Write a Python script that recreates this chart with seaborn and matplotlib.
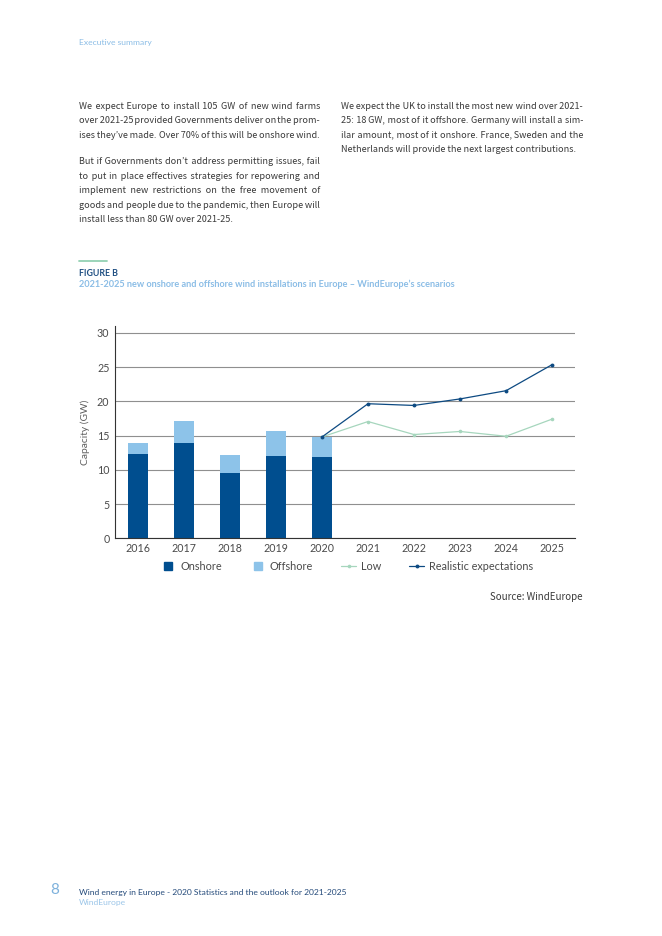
import matplotlib
matplotlib.use("Agg")
import matplotlib.pyplot as plt
from matplotlib.lines import Line2D
import seaborn as sns

# data (GW)
years_hist = [2016, 2017, 2018, 2019, 2020]
onshore = [12.3, 13.95, 9.5, 12.05, 11.9]
offshore = [1.6, 3.2, 2.7, 3.65, 2.9]
line_years = [2020, 2021, 2022, 2023, 2024, 2025]
low = [14.8, 17.05, 15.15, 15.6, 14.9, 17.4]
realistic = [14.8, 19.65, 19.4, 20.35, 21.55, 25.35]
all_years = list(range(2016, 2026))
y_ticks = [0, 5, 10, 15, 20, 25, 30]

left_paras = [
    ["We expect Europe to install 105 GW of new wind farms",
     "over 2021-25 provided Governments deliver on the prom-",
     "ises they\u2019ve made. Over 70% of this will be onshore wind."],
    ["But if Governments don\u2019t address permitting issues, fail",
     "to put in place effectives strategies for repowering and",
     "implement new restrictions on the free movement of",
     "goods and people due to the pandemic, then Europe will",
     "install less than 80 GW over 2021-25."],
]
right_para = ["We expect the UK to install the most new wind over 2021-",
              "25: 18 GW, most of it offshore. Germany will install a sim-",
              "ilar amount, most of it onshore. France, Sweden and the",
              "Netherlands will provide the next largest contributions."]

ONSHORE = "#004e8f"
OFFSHORE = "#8dc3e9"
REAL = "#0d4a82"
LOW = "#a6d6bd"
BODY = "#3a3a3a"
LIGHT = "#8bbde6"

sns.set_style("white")
plt.rcParams["font.family"] = ["Lato", "DejaVu Sans"]
# latin part of Noto Sans CJK is narrow, close to the report's body face;
# hair spaces (used for justification) come from DejaVu
BODY_FONT = ["Noto Sans CJK KR", "DejaVu Sans"]
HAIR = "\u200a"

W, H = 662, 936
fig = plt.figure(figsize=(W / 100, H / 100), dpi=100)


def fx(px):
    return px / W


def fy(py):
    return 1 - py / H


renderer = fig.canvas.get_renderer()


def text_width(s, size):
    t = fig.text(0, 0, s, fontsize=size, family=BODY_FONT)
    w = t.get_window_extent(renderer).width
    t.remove()
    return w


def justified(lines, x0, x1, y0, step, size, last_fill=False):
    hair = (text_width("x" + HAIR * 40 + "x", size) - text_width("xx", size)) / 40
    for i, line in enumerate(lines):
        y = fy(y0 + i * step + 2.8)
        words = line.split(" ")
        if (i == len(lines) - 1 and not last_fill) or len(words) < 2:
            fig.text(fx(x0), y, line, fontsize=size, color=BODY, va="baseline", family=BODY_FONT)
            continue
        free = (x1 - x0) - sum(text_width(w, size) for w in words)
        total = max(0, round(free / hair))
        n = len(words) - 1
        s = words[0]
        for k, w in enumerate(words[1:]):
            cnt = round((k + 1) * total / n) - round(k * total / n)
            s += HAIR * cnt + w
        fig.text(fx(x0), y, s, fontsize=size, color=BODY, va="baseline", family=BODY_FONT)


# body size: largest size where word gaps stay close to a normal space
base = 8.0
space = text_width("x x", base) - text_width("xx", base)
scale = 1.0
for p in left_paras + [right_para]:
    for l in p[:-1]:
        words = l.split(" ")
        need = sum(text_width(w, base) for w in words) + 0.8 * space * (len(words) - 1)
        scale = min(scale, 240 / need)
body_size = base * scale

fig.text(fx(79), fy(42), "Executive summary", fontsize=6.1, color=LIGHT, va="center")
justified(left_paras[0], 79, 320, 106, 14.4, body_size, last_fill=True)
justified(left_paras[1], 79, 320, 161.7, 14.4, body_size)
justified(right_para, 341, 583, 106, 14.4, body_size)

fig.add_artist(Line2D([fx(79), fx(107)], [fy(261), fy(261)], color="#93d1b3", lw=1.3))
fig.text(fx(79), fy(273.5), "FIGURE B", fontsize=6.3, fontweight="bold", color="#1f4f82", va="center")
fig.text(fx(79), fy(284.5), "2021-2025 new onshore and offshore wind installations in Europe \u2013 WindEurope\u2019s scenarios",
         fontsize=6.6, fontweight="bold", color=LIGHT, va="center")

# chart
ax = fig.add_axes([fx(115), fy(538.3), fx(575) - fx(115), fy(326) - fy(538.3)])
totals = [a + b for a, b in zip(onshore, offshore)]
sns.barplot(x=years_hist, y=totals, native_scale=True, color=OFFSHORE, width=0.42,
            errorbar=None, linewidth=0, saturation=1, ax=ax)
sns.barplot(x=years_hist, y=onshore, native_scale=True, color=ONSHORE, width=0.42,
            errorbar=None, linewidth=0, saturation=1, ax=ax)
sns.lineplot(x=line_years, y=low, color=LOW, lw=0.9, marker="o", markersize=2.6,
             markeredgewidth=0, ax=ax)
sns.lineplot(x=line_years, y=realistic, color=REAL, lw=0.9, marker="o", markersize=2.8,
             markeredgewidth=0, ax=ax)

ax.set_xlim(2015.5, 2025.5)
ax.set_ylim(0, 31)
ax.set_xticks(all_years)
ax.set_xticklabels([str(y) for y in all_years])
ax.set_yticks(y_ticks)
ax.yaxis.grid(True, color="#8f8f8f", lw=0.8)
ax.set_axisbelow(True)
ax.tick_params(axis="both", length=0, labelsize=7.7, labelcolor="#4a4a4a")
ax.tick_params(axis="x", pad=3.5)
ax.tick_params(axis="y", pad=4)
for side in ["top", "right"]:
    ax.spines[side].set_visible(False)
for side in ["left", "bottom"]:
    ax.spines[side].set_color("#333333")
    ax.spines[side].set_linewidth(0.8)
ax.set_xlabel("")
ax.set_ylabel("Capacity (GW)", fontsize=7.4, color="#606060")
ax.yaxis.set_label_coords(-0.054, 0.5)

handles = [
    Line2D([], [], ls="none", marker="s", markersize=6, color=ONSHORE),
    Line2D([], [], ls="none", marker="s", markersize=6, color=OFFSHORE),
    Line2D([], [], color=LOW, lw=0.9, marker="o", markersize=2.6, markeredgewidth=0),
    Line2D([], [], color=REAL, lw=0.9, marker="o", markersize=2.8, markeredgewidth=0),
]
labels = ["Onshore", "Offshore", "Low", "Realistic expectations"]
fig.legend(handles, labels, loc="center", bbox_to_anchor=(fx(347), fy(566)), ncol=4,
           frameon=False, fontsize=7.8, labelcolor="#4a4a4a", handlelength=1.35,
           handletextpad=0.45, columnspacing=2.6, borderpad=0, borderaxespad=0)

fig.text(fx(582), fy(597), "Source: WindEurope", fontsize=7.0, color=BODY, ha="right", va="center",
         family=BODY_FONT)

# footer
fig.text(fx(50), fy(890), "8", fontsize=11, color="#7db1dc", va="center")
fig.text(fx(79), fy(892.5), "Wind energy in Europe - 2020 Statistics and the outlook for 2021-2025",
         fontsize=6.1, color="#244a7a", va="center")
fig.text(fx(79), fy(902.5), "WindEurope", fontsize=6.1, color="#9cc6e9", va="center")

fig.savefig("out.png", dpi=100)
